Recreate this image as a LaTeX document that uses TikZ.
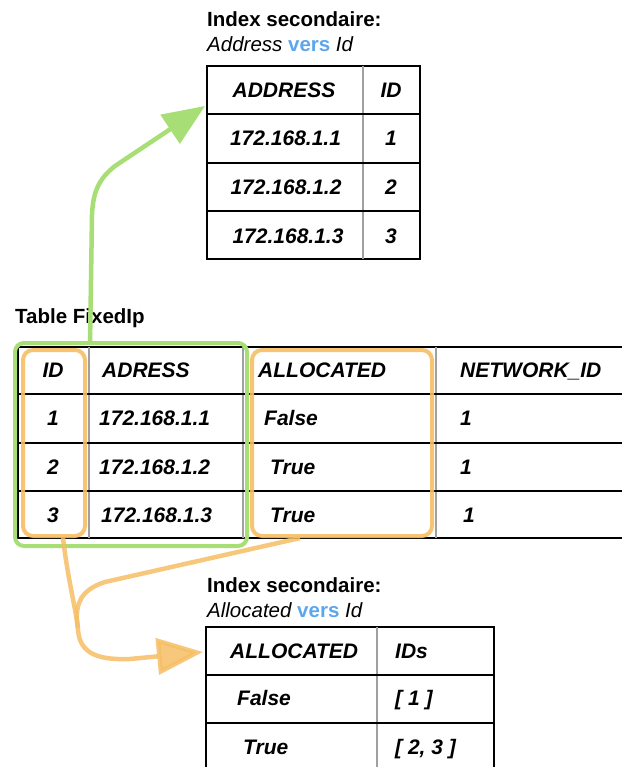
\documentclass[tikz,border=0pt]{standalone}
\usepackage{fontspec}
\setmainfont{Liberation Sans}
\usetikzlibrary{arrows.meta}
\definecolor{grn}{RGB}{168,222,118}
\definecolor{org}{RGB}{246,190,100}
\definecolor{vblue}{RGB}{92,166,236}
\definecolor{sepgray}{RGB}{160,160,160}
\begin{document}
\begin{tikzpicture}[x=1pt,y=-1pt,
  tbl/.style={draw=black, line width=2.5pt, rectangle, inner sep=0pt, outer sep=0pt},
  rowline/.style={black, line width=2.5pt},
  colline/.style={sepgray, line width=1.4pt},
  cell/.style={font=\fontsize{21}{24}\selectfont\bfseries\itshape, inner sep=0pt, anchor=base},
  lcell/.style={cell, anchor=base west},
  ttl/.style={font=\fontsize{20.5}{24}\selectfont\bfseries, inner sep=0pt, anchor=base west},
  subttl/.style={font=\fontsize{20.5}{24}\selectfont\itshape, inner sep=0pt, anchor=base west},
  gbox/.style={draw=grn, rounded corners=9pt, line width=4pt, inner sep=0pt},
  obox/.style={draw=org, draw opacity=0.9, rounded corners=10pt, line width=4pt, inner sep=0pt},
  garrow/.style={grn, line width=4.5pt, -{Triangle[length=42pt,width=34pt]}},
  oarrow/.style={org, line width=4.5pt, opacity=0.85, -{Triangle[length=46pt,width=36pt]}},
  oline/.style={org, line width=4.5pt, opacity=0.85}
]
\useasboundingbox (0,0) rectangle (621,767);

% ---------- top index table ----------
\node[ttl] (t1) at (207,27) {Index secondaire:};
\node[subttl] (s1) at (207,52) {Address \textcolor{vblue}{\bfseries\upshape vers} Id};
\node[tbl, minimum width=213pt, minimum height=193pt] (ta) at (313.5,162.5) {};
\draw[colline] (363,66) -- (363,259);
\draw[rowline] (207,114) -- (420,114);
\draw[rowline] (207,163) -- (420,163);
\draw[rowline] (207,211) -- (420,211);
\node[cell] (ta11) at (284,97.5) {ADDRESS};
\node[cell] (ta12) at (391,97.5) {ID};
\node[cell] (ta21) at (285.5,146) {172.168.1.1};
\node[cell] (ta22) at (391,146) {1};
\node[cell] (ta31) at (286,195) {172.168.1.2};
\node[cell] (ta32) at (391,195) {2};
\node[cell] (ta41) at (288,243) {172.168.1.3};
\node[cell] (ta42) at (391,243) {3};

% ---------- main table ----------
\node[ttl] (t2) at (15,323) {Table FixedIp};
\node[tbl, minimum width=622pt, minimum height=191pt] (tm) at (329,442.5) {};
\draw[colline] (89,347) -- (89,538);
\draw[colline] (243,347) -- (243,538);
\draw[colline] (436,347) -- (436,538);
\draw[rowline] (18,394) -- (640,394);
\draw[rowline] (18,443) -- (640,443);
\draw[rowline] (18,491) -- (640,491);
\node[cell]  (m11) at (53,377.5) {ID};
\node[lcell] (m12) at (102,377.5) {ADRESS};
\node[lcell] (m13) at (258,377.5) {ALLOCATED};
\node[lcell] (m14) at (460,377.5) {NETWORK\_ID};
\node[cell]  (m21) at (53,425.5) {1};
\node[lcell] (m22) at (99,425.5) {172.168.1.1};
\node[lcell] (m23) at (264,425.5) {False};
\node[lcell] (m24) at (460,425.5) {1};
\node[cell]  (m31) at (53,474.5) {2};
\node[lcell] (m32) at (99,474.5) {172.168.1.2};
\node[lcell] (m33) at (270,474.5) {True};
\node[lcell] (m34) at (460,474.5) {1};
\node[cell]  (m41) at (53,522.5) {3};
\node[lcell] (m42) at (101,522.5) {172.168.1.3};
\node[lcell] (m43) at (270,522.5) {True};
\node[lcell] (m44) at (463,522.5) {1};

% ---------- bottom index table ----------
\node[ttl] (t3) at (207,592) {Index secondaire:};
\node[subttl] (s3) at (207,617) {Allocated \textcolor{vblue}{\bfseries\upshape vers} Id};
\node[tbl, minimum width=288pt, minimum height=146pt] (tb) at (350,700) {};
\draw[colline] (377,627) -- (377,773);
\draw[rowline] (206,675) -- (494,675);
\draw[rowline] (206,723) -- (494,723);
\node[lcell] (b11) at (230,658) {ALLOCATED};
\node[lcell] (b12) at (395,658) {IDs};
\node[lcell] (b21) at (237,705.5) {False};
\node[lcell] (b22) at (395,705.5) {[ 1 ]};
\node[lcell] (b31) at (243,754.5) {True};
\node[lcell] (b32) at (395,754.5) {[ 2, 3 ]};

% ---------- highlight boxes ----------
\node[gbox, minimum width=232pt, minimum height=203pt] (gb) at (131,444.5) {};
\node[obox, minimum width=62pt, minimum height=186pt] (ob1) at (54,443) {};
\node[obox, minimum width=180pt, minimum height=186pt] (ob2) at (342,443) {};

% ---------- arrows ----------
\coordinate (gstart) at (90,345);
\draw[garrow] (gstart) -- (92,215) .. controls (93,190) and (100,178) .. (115,166)
   -- ([shift={(-2,40)}]ta.north west);
\draw[oline] ([xshift=9pt]ob1.south) .. controls (68,580) and (75,605) .. (78,628);
\draw[oarrow] ([xshift=-42pt]ob2.south) -- (105,582)
   .. controls (80,590) and (76,605) .. (77,620) -- (78,630)
   .. controls (80,655) and (100,660) .. (130,659)
   -- ([shift={(-3,25)}]tb.north west);
\end{tikzpicture}
\end{document}
